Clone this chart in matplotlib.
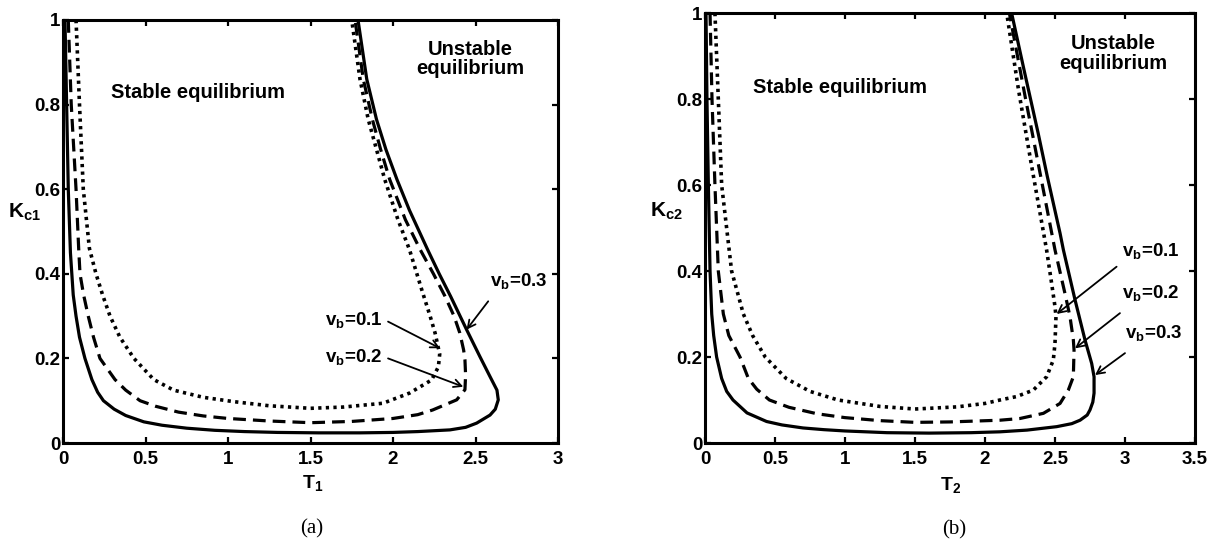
import matplotlib
matplotlib.use("Agg")
import matplotlib.pyplot as plt

# ---------------- data ----------------
# Panel (a): T1 vs Kc1
a_vb3_T = [0.012, 0.022, 0.032, 0.045, 0.062, 0.079, 0.100, 0.133, 0.175, 0.210, 0.245, 0.310,
           0.380, 0.490, 0.600, 0.750, 0.920, 1.100, 1.300, 1.550, 1.800, 2.000, 2.150, 2.345,
           2.440, 2.507, 2.588, 2.620, 2.638, 2.630, 2.588, 2.527, 2.446, 2.350, 2.280, 2.210,
           2.100, 2.024, 1.957, 1.900, 1.841, 1.788]
a_vb3_K = [1.000, 0.800, 0.600, 0.450, 0.350, 0.300, 0.250, 0.200, 0.150, 0.120, 0.100, 0.080,
           0.065, 0.050, 0.042, 0.035, 0.030, 0.027, 0.025, 0.024, 0.024, 0.025, 0.027, 0.031,
           0.037, 0.047, 0.066, 0.080, 0.102, 0.125, 0.157, 0.204, 0.268, 0.346, 0.400, 0.457,
           0.550, 0.623, 0.694, 0.765, 0.860, 1.000]

a_vb2_T = [0.032, 0.050, 0.079, 0.095, 0.103, 0.125, 0.153, 0.185, 0.224, 0.315, 0.380, 0.467,
           0.560, 0.700, 0.850, 1.000, 1.250, 1.500, 1.750, 2.000, 2.150, 2.240, 2.386, 2.436,
           2.440, 2.436, 2.428, 2.405, 2.370, 2.315, 2.245, 2.165, 2.075, 1.980, 1.925, 1.875,
           1.820, 1.770]
a_vb2_K = [1.000, 0.800, 0.600, 0.460, 0.400, 0.350, 0.300, 0.250, 0.200, 0.150, 0.125, 0.100,
           0.087, 0.073, 0.064, 0.058, 0.052, 0.048, 0.051, 0.058, 0.067, 0.078, 0.102, 0.126,
           0.160, 0.197, 0.220, 0.260, 0.300, 0.347, 0.400, 0.457, 0.528, 0.623, 0.694, 0.765,
           0.860, 1.000]

a_vb1_T = [0.079, 0.100, 0.123, 0.160, 0.200, 0.240, 0.285, 0.345, 0.430, 0.550, 0.670, 0.850,
           1.030, 1.250, 1.500, 1.700, 1.940, 2.100, 2.234, 2.275, 2.283, 2.255, 2.225, 2.180,
           2.100, 2.030, 1.950, 1.900, 1.850, 1.800, 1.750]
a_vb1_K = [1.000, 0.800, 0.600, 0.460, 0.400, 0.350, 0.300, 0.250, 0.200, 0.150, 0.125, 0.108,
           0.098, 0.088, 0.082, 0.085, 0.094, 0.118, 0.149, 0.180, 0.210, 0.260, 0.300, 0.355,
           0.457, 0.528, 0.623, 0.694, 0.765, 0.860, 1.000]

# Panel (b): T2 vs Kc2
b_vb3_T = [0.007, 0.014, 0.024, 0.036, 0.048, 0.062, 0.083, 0.119, 0.155, 0.200, 0.250, 0.300,
           0.370, 0.440, 0.550, 0.700, 0.850, 1.000, 1.300, 1.600, 1.900, 2.107, 2.300, 2.512,
           2.620, 2.679, 2.730, 2.750, 2.770, 2.779, 2.779, 2.762, 2.714, 2.643, 2.560, 2.536,
           2.445, 2.380, 2.284, 2.190]
b_vb3_K = [1.000, 0.800, 0.600, 0.400, 0.300, 0.250, 0.200, 0.150, 0.120, 0.100, 0.085, 0.070,
           0.060, 0.050, 0.042, 0.035, 0.031, 0.028, 0.024, 0.023, 0.024, 0.026, 0.030, 0.038,
           0.045, 0.053, 0.065, 0.077, 0.095, 0.116, 0.154, 0.185, 0.240, 0.333, 0.449, 0.488,
           0.620, 0.720, 0.860, 1.000]

b_vb2_T = [0.036, 0.050, 0.071, 0.095, 0.131, 0.170, 0.250, 0.310, 0.370, 0.460, 0.600, 0.800,
           1.000, 1.250, 1.500, 1.750, 2.107, 2.250, 2.417, 2.536, 2.595, 2.631, 2.636, 2.631,
           2.607, 2.571, 2.500, 2.380, 2.290, 2.174]
b_vb2_K = [1.000, 0.800, 0.600, 0.400, 0.300, 0.250, 0.200, 0.150, 0.125, 0.100, 0.083, 0.068,
           0.059, 0.052, 0.048, 0.049, 0.053, 0.057, 0.069, 0.092, 0.123, 0.154, 0.216, 0.240,
           0.294, 0.348, 0.449, 0.650, 0.800, 1.000]

b_vb1_T = [0.071, 0.095, 0.119, 0.190, 0.274, 0.340, 0.430, 0.580, 0.750, 0.950, 1.250, 1.500,
           1.800, 2.000, 2.107, 2.226, 2.345, 2.440, 2.488, 2.500, 2.507, 2.500, 2.476, 2.440,
           2.330, 2.240, 2.155]
b_vb1_K = [1.000, 0.800, 0.600, 0.400, 0.300, 0.250, 0.200, 0.150, 0.120, 0.100, 0.085, 0.079,
           0.084, 0.092, 0.100, 0.108, 0.123, 0.154, 0.193, 0.232, 0.294, 0.317, 0.371, 0.449,
           0.650, 0.820, 1.000]

y_ticks = [0, 0.2, 0.4, 0.6, 0.8, 1]
y_tick_labels = ['0', '0.2', '0.4', '0.6', '0.8', '1']
a_x_ticks = [0, 0.5, 1, 1.5, 2, 2.5, 3]
a_x_tick_labels = ['0', '0.5', '1', '1.5', '2', '2.5', '3']
b_x_ticks = [0, 0.5, 1, 1.5, 2, 2.5, 3, 3.5]
b_x_tick_labels = ['0', '0.5', '1', '1.5', '2', '2.5', '3', '3.5']

series_labels = ['$\\mathregular{v_b}$=0.1', '$\\mathregular{v_b}$=0.2', '$\\mathregular{v_b}$=0.3']

# ---------------- figure ----------------
plt.rcParams['font.family'] = ['Liberation Sans', 'DejaVu Sans']
plt.rcParams['font.weight'] = 'bold'

fig = plt.figure(figsize=(12.21, 5.48), dpi=100)
ax_a = fig.add_axes([63/1221, 105/548, 495/1221, 423/548])
ax_b = fig.add_axes([705/1221, 105/548, 490/1221, 430/548])

LW = 2.3
for ax, curves in [
    (ax_a, [(a_vb1_T, a_vb1_K, ':'), (a_vb2_T, a_vb2_K, '--'), (a_vb3_T, a_vb3_K, '-')]),
    (ax_b, [(b_vb1_T, b_vb1_K, ':'), (b_vb2_T, b_vb2_K, '--'), (b_vb3_T, b_vb3_K, '-')]),
]:
    for T, K, ls in curves:
        if ls == ':':
            ax.plot(T, K, color='black', lw=LW + 0.3, linestyle=(0, (0.9, 1.2)), solid_capstyle='butt')
        elif ls == '--':
            ax.plot(T, K, color='black', lw=LW, linestyle=(0, (4.0, 2.2)))
        else:
            ax.plot(T, K, color='black', lw=LW)
    ax.set_ylim(0, 1)
    ax.set_yticks(y_ticks)
    ax.set_yticklabels(y_tick_labels)
    for s in ax.spines.values():
        s.set_linewidth(2.2)
    ax.tick_params(direction='in', length=4, width=1.6, top=True, right=True,
                   labelsize=13.5)
    ax.tick_params(axis='x', pad=6)
    ax.tick_params(axis='y', pad=2)
    for lab in ax.get_xticklabels() + ax.get_yticklabels():
        lab.set_fontweight('bold')

ax_a.set_xlim(0, 3)
ax_a.set_xticks(a_x_ticks)
ax_a.set_xticklabels(a_x_tick_labels, fontweight='bold')
ax_b.set_xlim(0, 3.5)
ax_b.set_xticks(b_x_ticks)
ax_b.set_xticklabels(b_x_tick_labels, fontweight='bold')

# axis labels
ax_a.text(-0.111, 0.532, '$\\mathregular{K_{c1}}$', transform=ax_a.transAxes,
          fontsize=15, fontweight='bold', ha='left', va='baseline')
ax_b.text(-0.112, 0.526, '$\\mathregular{K_{c2}}$', transform=ax_b.transAxes,
          fontsize=15, fontweight='bold', ha='left', va='baseline')
ax_a.text(0.483, -0.106, '$\\mathregular{T_1}$', transform=ax_a.transAxes,
          fontsize=14, fontweight='bold', ha='left', va='baseline')
ax_b.text(0.48, -0.109, '$\\mathregular{T_2}$', transform=ax_b.transAxes,
          fontsize=14, fontweight='bold', ha='left', va='baseline')

# region texts
ax_a.text(0.82, 0.815, 'Stable equilibrium', fontsize=14.5, fontweight='bold',
          ha='center', va='baseline')
ax_a.text(2.467, 0.908, 'Unstable\nequilibrium', fontsize=14.5, fontweight='bold',
          ha='center', va='center', linespacing=1.05)
ax_b.text(0.964, 0.814, 'Stable equilibrium', fontsize=14.5, fontweight='bold',
          ha='center', va='baseline')
ax_b.text(2.914, 0.905, 'Unstable\nequilibrium', fontsize=14.5, fontweight='bold',
          ha='center', va='center', linespacing=1.05)

arrow_kw = dict(arrowstyle='->,head_length=0.55,head_width=0.28', color='black', lw=1.3,
                shrinkA=0, shrinkB=0)

# panel (a) annotations
ax_a.text(1.588, 0.280, series_labels[0], fontsize=13.5, fontweight='bold', ha='left', va='baseline')
ax_a.annotate('', xy=(2.285, 0.224), xytext=(1.97, 0.287), arrowprops=arrow_kw)
ax_a.text(1.588, 0.192, series_labels[1], fontsize=13.5, fontweight='bold', ha='left', va='baseline')
ax_a.annotate('', xy=(2.426, 0.133), xytext=(1.97, 0.200), arrowprops=arrow_kw)
ax_a.text(2.588, 0.370, series_labels[2], fontsize=13.5, fontweight='bold', ha='left', va='baseline')
ax_a.annotate('', xy=(2.446, 0.268), xytext=(2.577, 0.335), arrowprops=arrow_kw)

# panel (b) annotations
ax_b.text(2.979, 0.435, series_labels[0], fontsize=13.5, fontweight='bold', ha='left', va='baseline')
ax_b.annotate('', xy=(2.512, 0.300), xytext=(2.94, 0.410), arrowprops=arrow_kw)
ax_b.text(2.979, 0.337, series_labels[1], fontsize=13.5, fontweight='bold', ha='left', va='baseline')
ax_b.annotate('', xy=(2.643, 0.220), xytext=(2.964, 0.302), arrowprops=arrow_kw)
ax_b.text(3.0, 0.244, series_labels[2], fontsize=13.5, fontweight='bold', ha='left', va='baseline')
ax_b.annotate('', xy=(2.786, 0.158), xytext=(3.0, 0.209), arrowprops=arrow_kw)

# sub-figure captions
fig.text(312/1221, 1 - 528.5/548, '(a)', family=['Liberation Serif', 'DejaVu Serif'],
         fontweight='normal', fontsize=15, ha='center', va='center')
fig.text(954.5/1221, 1 - 529.5/548, '(b)', family=['Liberation Serif', 'DejaVu Serif'],
         fontweight='normal', fontsize=15, ha='center', va='center')

fig.savefig('out.png', dpi=100)
